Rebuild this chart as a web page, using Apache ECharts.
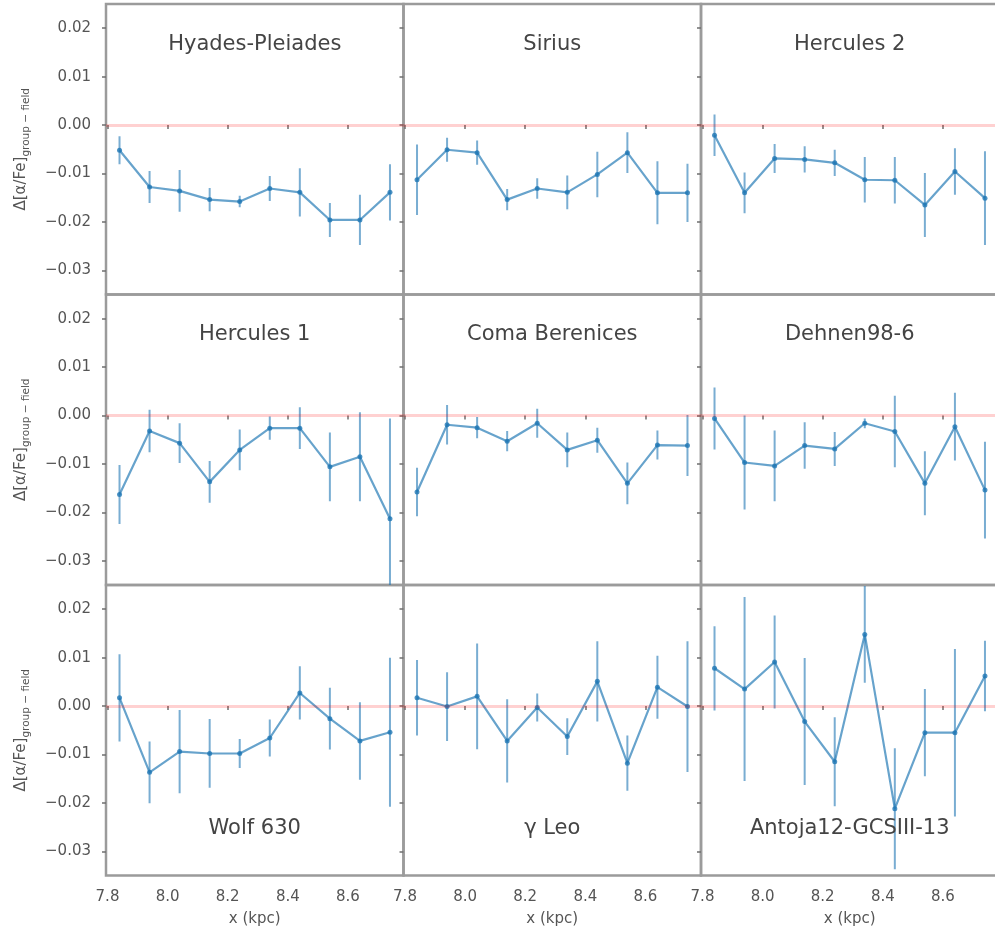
<!DOCTYPE html>
<html>
<head>
<meta charset="utf-8">
<script src="https://cdn.jsdelivr.net/npm/echarts@6/dist/echarts.min.js"></script>
<style>
  html, body { margin: 0; padding: 0; background: #fff; }
  #chart { width: 995px; height: 933px; }
</style>
</head>
<body>
<div id="chart"></div>
<script>
// Radial bins (kpc) shared by every moving group
const xKpc = [7.84, 7.94, 8.04, 8.14, 8.24, 8.34, 8.44, 8.54, 8.64, 8.74];

const groupNames = ['Hyades-Pleiades', 'Sirius', 'Hercules 2',
                    'Hercules 1', 'Coma Berenices', 'Dehnen98-6',
                    'Wolf 630', 'γ Leo', 'Antoja12-GCSIII-13'];

// Δ[α/Fe] (group − field) per bin, with 1σ uncertainties
const hyadesPleiades    = [-0.0052, -0.0128, -0.0136, -0.0154, -0.0158, -0.0131, -0.0139, -0.0196, -0.0196, -0.0139];
const hyadesPleiadesErr = [0.0029, 0.0033, 0.0043, 0.0024, 0.0012, 0.0026, 0.0050, 0.0035, 0.0052, 0.0058];

const sirius    = [-0.0113, -0.0051, -0.0057, -0.0154, -0.0131, -0.0139, -0.0102, -0.0057, -0.0140, -0.0140];
const siriusErr = [0.0073, 0.0025, 0.0025, 0.0022, 0.0021, 0.0035, 0.0047, 0.0042, 0.0065, 0.0060];

const hercules2    = [-0.0021, -0.0140, -0.0069, -0.0071, -0.0078, -0.0113, -0.0114, -0.0165, -0.0096, -0.0151];
const hercules2Err = [0.0043, 0.0042, 0.0030, 0.0027, 0.0027, 0.0047, 0.0048, 0.0066, 0.0048, 0.0097];

const hercules1    = [-0.0163, -0.0032, -0.0057, -0.0137, -0.0071, -0.0026, -0.0026, -0.0106, -0.0085, -0.0213];
const hercules1Err = [0.0061, 0.0044, 0.0041, 0.0043, 0.0042, 0.0024, 0.0043, 0.0071, 0.0092, 0.0207];

const comaBerenices    = [-0.0158, -0.0019, -0.0025, -0.0053, -0.0016, -0.0071, -0.0051, -0.0140, -0.0061, -0.0062];
const comaBerenicesErr = [0.0050, 0.0041, 0.0022, 0.0021, 0.0030, 0.0036, 0.0026, 0.0043, 0.0030, 0.0063];

const dehnen98_6    = [-0.0006, -0.0097, -0.0104, -0.0062, -0.0069, -0.0016, -0.0033, -0.0140, -0.0023, -0.0154];
const dehnen98_6Err = [0.0064, 0.0097, 0.0073, 0.0048, 0.0035, 0.0010, 0.0074, 0.0066, 0.0070, 0.0100];

const wolf630    = [0.0017, -0.0137, -0.0094, -0.0098, -0.0098, -0.0066, 0.0027, -0.0026, -0.0072, -0.0054];
const wolf630Err = [0.0090, 0.0064, 0.0086, 0.0071, 0.0030, 0.0038, 0.0055, 0.0064, 0.0080, 0.0154];

const gammaLeo    = [0.0017, -0.0001, 0.0020, -0.0072, -0.0003, -0.0063, 0.0051, -0.0118, 0.0039, -0.0001];
const gammaLeoErr = [0.0078, 0.0071, 0.0109, 0.0086, 0.0029, 0.0038, 0.0083, 0.0057, 0.0065, 0.0135];

const antoja12    = [0.0078, 0.0035, 0.0091, -0.0032, -0.0115, 0.0148, -0.0212, -0.0055, -0.0055, 0.0062];
const antoja12Err = [0.0087, 0.0190, 0.0096, 0.0131, 0.0092, 0.0100, 0.0125, 0.0090, 0.0173, 0.0073];

const groupValues = [hyadesPleiades, sirius, hercules2, hercules1, comaBerenices, dehnen98_6, wolf630, gammaLeo, antoja12];
const groupErrors = [hyadesPleiadesErr, siriusErr, hercules2Err, hercules1Err, comaBerenicesErr, dehnen98_6Err, wolf630Err, gammaLeoErr, antoja12Err];

// Tick positions
const xTicks = [7.8, 8.0, 8.2, 8.4, 8.6];
const yTicks = [-0.03, -0.02, -0.01, 0.0, 0.01, 0.02];

// Panel layout (pixels); the right column runs past the canvas edge
const colLeft = [106, 403.5, 701];
const panelW = 297.5;
const rowTop = [4, 294.5, 585];
const panelH = 290.5;

const FONT = 'DejaVu Sans';
const C0 = '#1f77b4';

const grids = [], xAxes = [], yAxes = [], series = [], titles = [];

function fmtY(v) {
  const r = Math.round(v * 100) / 100;
  if (r === 0) return '0.00';
  return (r < 0 ? '\u2212' : '') + Math.abs(r).toFixed(2);
}

groupNames.forEach((name, i) => {
  const row = Math.floor(i / 3), col = i % 3;
  grids.push({
    left: colLeft[col], top: rowTop[row], width: panelW, height: panelH,
    outerBoundsMode: 'none', containLabel: false,
    show: true, borderColor: '#9b9b9b', borderWidth: 2.5, backgroundColor: 'transparent'
  });
  xAxes.push({
    type: 'value', gridIndex: i, min: 7.795, max: 8.785,
    axisLine: { show: false },
    splitLine: { show: false },
    axisTick: { show: true, inside: false, length: 4, customValues: xTicks,
                lineStyle: { color: '#6f6f6f', width: 1.5 } },
    axisLabel: { show: row === 2, customValues: xTicks, margin: 14,
                 fontFamily: FONT, fontSize: 15, color: '#555',
                 formatter: v => v.toFixed(1) },
    name: row === 2 ? 'x (kpc)' : '',
    nameLocation: 'middle', nameGap: 36,
    nameTextStyle: { fontFamily: FONT, fontSize: 15, color: '#555' }
  });
  yAxes.push({
    type: 'value', gridIndex: i, min: -0.035, max: 0.025,
    axisLine: { show: false },
    splitLine: { show: false },
    axisTick: { show: true, inside: false, length: 4, customValues: yTicks,
                lineStyle: { color: '#6f6f6f', width: 1.5 } },
    axisLabel: { show: col === 0, customValues: yTicks, margin: 15,
                 fontFamily: FONT, fontSize: 15, color: '#555',
                 formatter: fmtY },
    name: col === 0 ? '{m|Δ[α/Fe]}{s|group − field}' : '',
    nameLocation: 'middle', nameRotate: 90, nameGap: 74,
    nameTextStyle: {
      fontFamily: FONT, color: '#555',
      rich: {
        m: { fontFamily: FONT, fontSize: 15, color: '#555', lineHeight: 22, verticalAlign: 'middle' },
        s: { fontFamily: FONT, fontSize: 10.5, color: '#555', lineHeight: 22, verticalAlign: 'bottom' }
      }
    }
  });

  const vals = groupValues[i], errs = groupErrors[i];
  // connecting line with markers, plus the zero reference
  series.push({
    type: 'line', xAxisIndex: i, yAxisIndex: i,
    data: xKpc.map((x, k) => [x, vals[k]]),
    symbol: 'circle', symbolSize: 5, showSymbol: true,
    lineStyle: { color: C0, width: 2.2, opacity: 0.68 },
    itemStyle: { color: C0, opacity: 0.8 },
    z: 3, silent: true, animation: false,
    markLine: {
      silent: true, symbol: 'none', animation: false,
      label: { show: false },
      lineStyle: { color: 'rgba(255,0,0,0.18)', width: 3, type: 'solid' },
      data: [{ yAxis: 0 }]
    }
  });
  // vertical error bars
  series.push({
    type: 'custom', xAxisIndex: i, yAxisIndex: i,
    data: xKpc.map((x, k) => [x, vals[k], errs[k]]),
    encode: { x: 0, y: 1 },
    clip: true, silent: true, animation: false, z: 2,
    renderItem: (params, api) => {
      const x = api.value(0), y = api.value(1), e = api.value(2);
      const hi = api.coord([x, y + e]);
      const lo = api.coord([x, y - e]);
      return {
        type: 'line',
        shape: { x1: hi[0], y1: hi[1], x2: lo[0], y2: lo[1] },
        style: { stroke: C0, lineWidth: 2, opacity: 0.6 }
      };
    }
  });

  // panel caption: near the top for the upper rows, near the bottom for the last row
  titles.push({
    text: name,
    left: colLeft[col] + panelW / 2,
    top: row === 2 ? rowTop[row] + panelH - 57 : rowTop[row] + 30,
    textAlign: 'center', padding: 0,
    textStyle: { fontFamily: FONT, fontSize: 21, fontWeight: 'normal', color: '#444' }
  });
});

const chart = echarts.init(document.getElementById('chart'), null, { renderer: 'canvas' });
chart.setOption({
  animation: false,
  backgroundColor: '#fff',
  title: titles,
  grid: grids,
  xAxis: xAxes,
  yAxis: yAxes,
  series: series
});
</script>
</body>
</html>
